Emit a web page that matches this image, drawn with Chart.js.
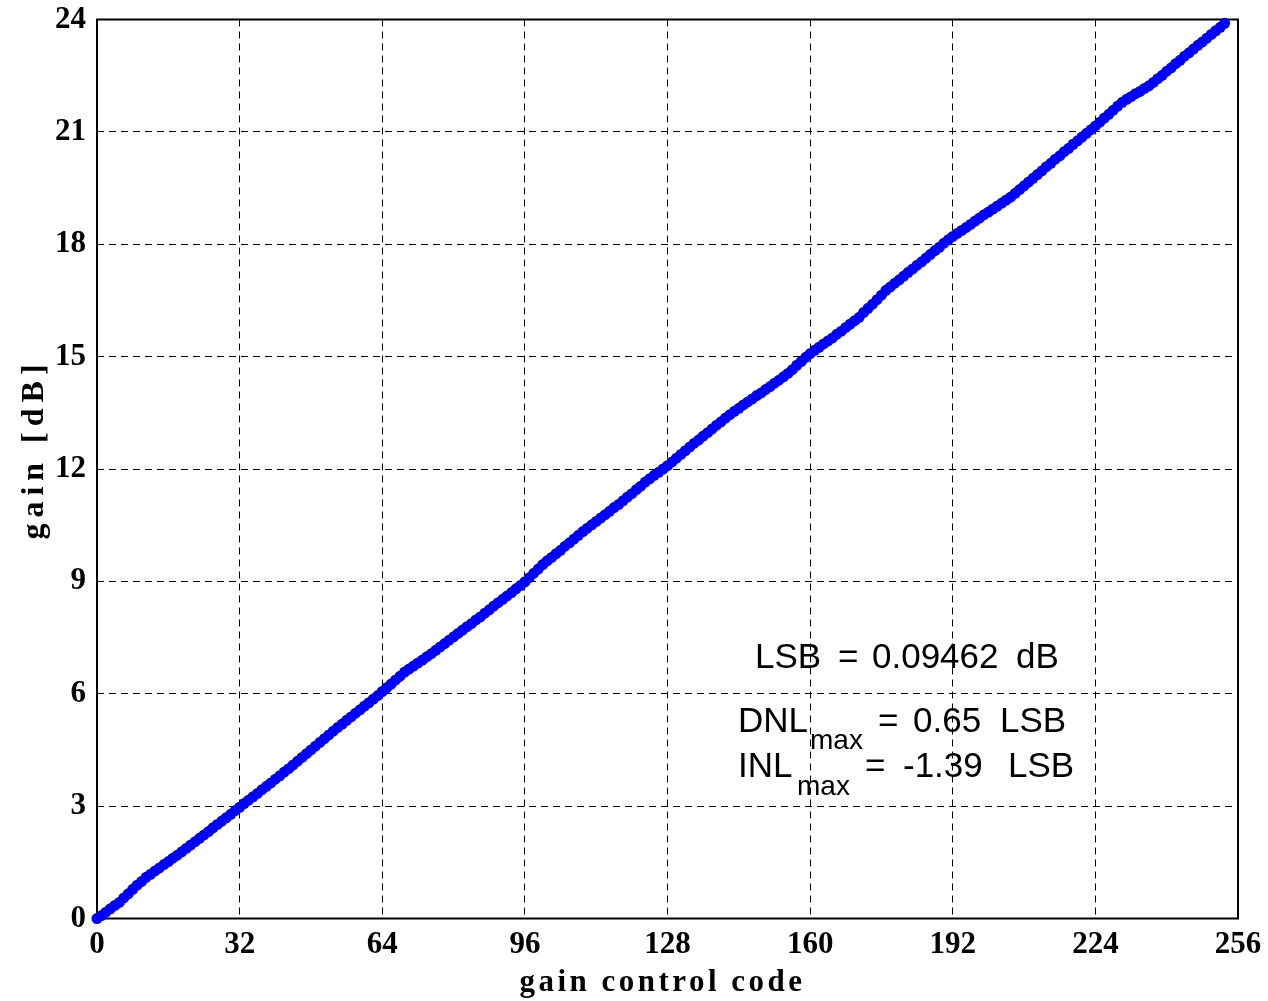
<!DOCTYPE html>
<html>
<head>
<meta charset="utf-8">
<script src="https://cdn.jsdelivr.net/npm/chart.js@4"></script>
<style>
  html, body { margin: 0; padding: 0; background: #fff; }
  #wrap { width: 1268px; height: 1001px; }
</style>
</head>
<body>
<div id="wrap"><canvas id="c" width="1268" height="1001"></canvas></div>
<script>
// gain [dB] measured for each gain control code (index = code)
const gains = [
  0.00, 0.08, 0.17, 0.26, 0.35, 0.43, 0.55, 0.66, 0.78, 0.89,
  0.99, 1.10, 1.18, 1.27, 1.35, 1.44, 1.52, 1.61, 1.69, 1.78,
  1.87, 1.96, 2.05, 2.14, 2.23, 2.32, 2.42, 2.51, 2.60, 2.69,
  2.78, 2.88, 2.97, 3.07, 3.16, 3.25, 3.34, 3.44, 3.53, 3.62,
  3.72, 3.81, 3.91, 4.00, 4.10, 4.20, 4.30, 4.40, 4.50, 4.60,
  4.70, 4.80, 4.90, 5.00, 5.10, 5.19, 5.29, 5.38, 5.48, 5.57,
  5.67, 5.76, 5.86, 5.95, 6.06, 6.16, 6.26, 6.37, 6.47, 6.58,
  6.66, 6.74, 6.82, 6.90, 6.99, 7.07, 7.16, 7.25, 7.34, 7.43,
  7.52, 7.61, 7.70, 7.79, 7.87, 7.97, 8.05, 8.15, 8.24, 8.34,
  8.43, 8.52, 8.61, 8.70, 8.80, 8.89, 8.99, 9.10, 9.22, 9.33,
  9.45, 9.55, 9.64, 9.74, 9.83, 9.94, 10.03, 10.13, 10.23, 10.33,
  10.42, 10.51, 10.60, 10.69, 10.78, 10.87, 10.97, 11.05, 11.15, 11.25,
  11.34, 11.45, 11.54, 11.65, 11.74, 11.83, 11.91, 12.00, 12.09, 12.19,
  12.29, 12.39, 12.49, 12.59, 12.69, 12.78, 12.88, 12.97, 13.07, 13.17,
  13.26, 13.36, 13.45, 13.54, 13.62, 13.71, 13.79, 13.87, 13.96, 14.03,
  14.12, 14.20, 14.29, 14.37, 14.46, 14.55, 14.65, 14.77, 14.87, 14.98,
  15.08, 15.17, 15.25, 15.34, 15.42, 15.50, 15.60, 15.68, 15.78, 15.87,
  15.96, 16.05, 16.18, 16.29, 16.40, 16.52, 16.64, 16.77, 16.86, 16.96,
  17.05, 17.15, 17.25, 17.34, 17.44, 17.53, 17.63, 17.73, 17.83, 17.92,
  18.03, 18.12, 18.21, 18.29, 18.37, 18.45, 18.53, 18.62, 18.70, 18.79,
  18.86, 18.94, 19.02, 19.10, 19.18, 19.26, 19.36, 19.46, 19.56, 19.66,
  19.76, 19.86, 19.96, 20.07, 20.16, 20.27, 20.36, 20.47, 20.56, 20.67,
  20.76, 20.86, 20.96, 21.06, 21.16, 21.26, 21.37, 21.47, 21.58, 21.69,
  21.79, 21.87, 21.94, 22.02, 22.08, 22.16, 22.23, 22.32, 22.42, 22.51,
  22.62, 22.71, 22.82, 22.91, 23.02, 23.11, 23.21, 23.31, 23.40, 23.50,
  23.60, 23.70, 23.79, 23.90
];
// gain control codes (the code is the index of each measurement)
const codes = gains.map((_, i) => i);

const xTicks = [0, 32, 64, 96, 128, 160, 192, 224, 256];
const yTicks = [0, 3, 6, 9, 12, 15, 18, 21, 24];

const xTitle = 'gain control code';
const yTitle = 'gain [dB]';
const lsbText = ['LSB', '=', '0.09462', 'dB'];
const dnlText = ['DNL', 'max', '=', '0.65', 'LSB'];
const inlText = ['INL', 'max', '=', '-1.39', 'LSB'];

const points = codes.map((c, i) => ({ x: c, y: gains[i] }));

const framePlugin = {
  id: 'framePlugin',
  beforeDatasetsDraw(chart) {
    const { ctx, chartArea: a } = chart;
    ctx.save();
    ctx.strokeStyle = '#000';
    ctx.lineWidth = 2;
    ctx.strokeRect(a.left, a.top, a.right - a.left, a.bottom - a.top);
    ctx.restore();
  },
  afterDraw(chart) {
    const { ctx, chartArea: a } = chart;
    ctx.save();
    // axis titles
    ctx.fillStyle = '#000';
    ctx.font = 'bold 31px "Liberation Serif", "Times New Roman", serif';
    ctx.textAlign = 'center';
    ctx.textBaseline = 'middle';
    ctx.letterSpacing = '3.5px';
    ctx.fillText(xTitle, (a.left + a.right) / 2 - 5, 983);
    ctx.save();
    ctx.translate(35, 449);
    ctx.rotate(-Math.PI / 2);
    ctx.font = 'bold 32px "Liberation Serif", "Times New Roman", serif';
    ctx.letterSpacing = '6px';
    ctx.fillText(yTitle, 0, 0);
    ctx.restore();

    // annotation
    ctx.letterSpacing = '0px';
    ctx.textAlign = 'left';
    ctx.textBaseline = 'alphabetic';
    const big = '35px "Liberation Sans", Arial, Helvetica, sans-serif';
    const sub = '28px "Liberation Sans", Arial, Helvetica, sans-serif';
    const L = a.left, T = a.top;
    ctx.font = big;
    // line 1
    ctx.fillText(lsbText[0], L + 658, T + 648);
    ctx.fillText(lsbText[1], L + 741, T + 648);
    ctx.fillText(lsbText[2], L + 775, T + 648);
    ctx.fillText(lsbText[3], L + 919, T + 648);
    // line 2
    ctx.fillText(dnlText[0], L + 641, T + 712);
    ctx.font = sub;
    ctx.fillText(dnlText[1], L + 713, T + 729);
    ctx.font = big;
    ctx.fillText(dnlText[2], L + 781, T + 712);
    ctx.fillText(dnlText[3], L + 816, T + 712);
    ctx.fillText(dnlText[4], L + 903, T + 712);
    // line 3
    ctx.fillText(inlText[0], L + 641, T + 757);
    ctx.font = sub;
    ctx.fillText(inlText[1], L + 700, T + 775);
    ctx.font = big;
    ctx.fillText(inlText[2], L + 768, T + 757);
    ctx.fillText(inlText[3], L + 806, T + 757);
    ctx.fillText(inlText[4], L + 911, T + 757);
    ctx.restore();
  }
};

new Chart(document.getElementById('c'), {
  type: 'scatter',
  data: {
    datasets: [{
      data: points,
      showLine: true,
      borderColor: '#0000ff',
      backgroundColor: '#0000ff',
      borderWidth: 4,
      pointRadius: 5.5,
      pointBorderWidth: 0,
      pointBackgroundColor: '#0000ff',
      clip: false
    }]
  },
  options: {
    responsive: false,
    animation: false,
    devicePixelRatio: 1,
    layout: { padding: { left: 0, right: 30, top: 19.5, bottom: 0 } },
    plugins: { legend: { display: false }, tooltip: { enabled: false } },
    scales: {
      x: {
        type: 'linear',
        min: 0, max: 256,
        afterBuildTicks(scale) { scale.ticks = xTicks.map(v => ({ value: v })); },
        afterFit(scale) { scale.height = 82.5; scale.paddingLeft = 0; scale.paddingRight = 0; },
        ticks: {
          color: '#000',
          padding: 8,
          maxRotation: 0,
          autoSkip: false,
          font: { family: '"Liberation Serif", "Times New Roman", serif', size: 31, weight: 'bold' }
        },
        grid: { color: '#000', lineWidth: 1, drawTicks: false },
        border: { display: false, dash: [7, 5] },
        title: { display: false }
      },
      y: {
        type: 'linear',
        min: 0, max: 24,
        afterBuildTicks(scale) { scale.ticks = yTicks.map(v => ({ value: v })); },
        afterFit(scale) { scale.width = 97; scale.paddingTop = 0; scale.paddingBottom = 0; },
        ticks: {
          color: '#000',
          padding: 11,
          autoSkip: false,
          font: { family: '"Liberation Serif", "Times New Roman", serif', size: 31, weight: 'bold' }
        },
        grid: { color: '#000', lineWidth: 1, drawTicks: false },
        border: { display: false, dash: [7, 5] },
        title: { display: false }
      }
    }
  },
  plugins: [framePlugin]
});
</script>
</body>
</html>
